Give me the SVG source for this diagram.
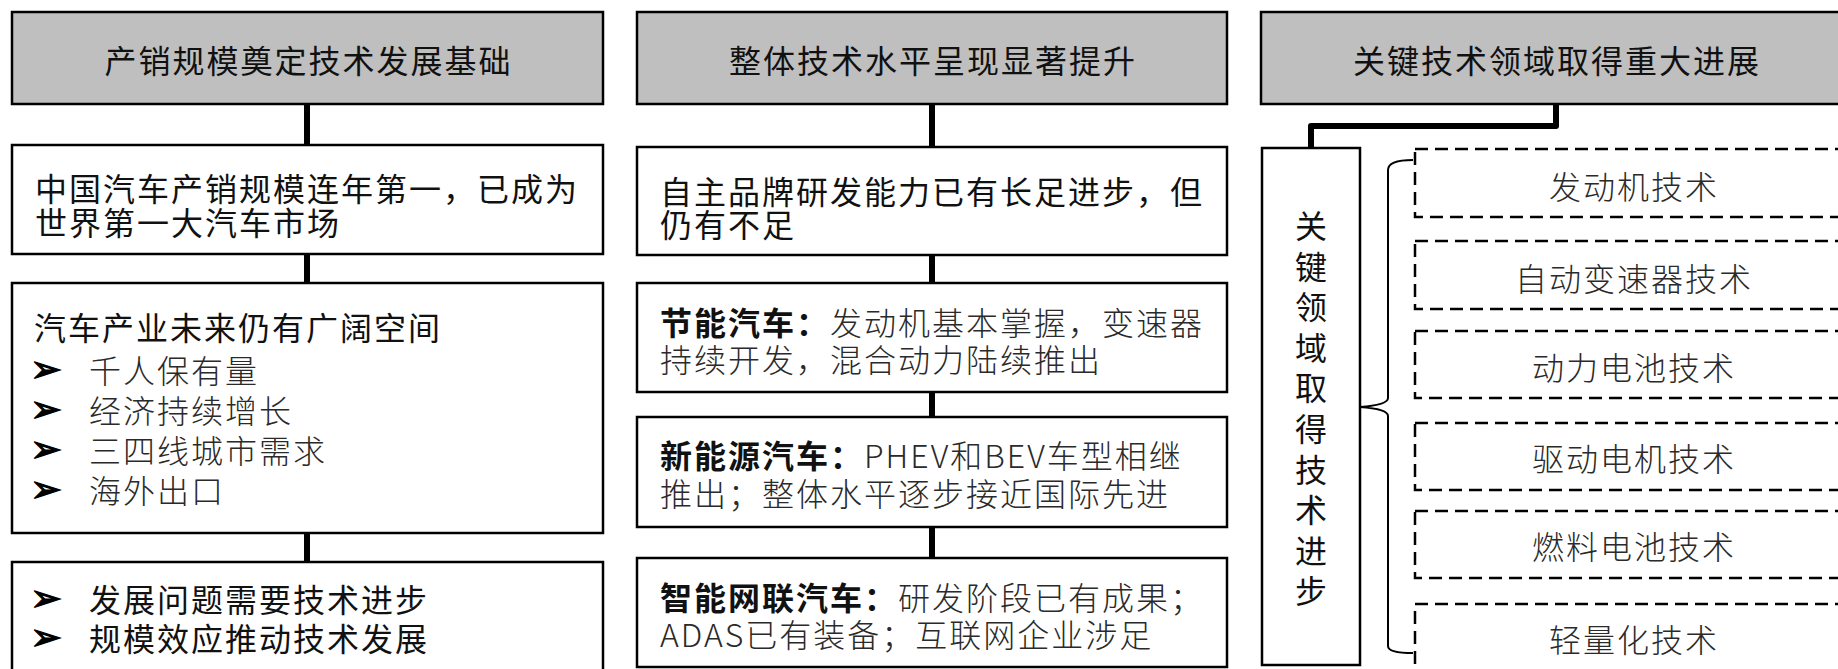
<svg xmlns="http://www.w3.org/2000/svg" width="1838" height="669" viewBox="0 0 1838 669">
<style>
.hdr{fill:#bfbfbf;stroke:#000;stroke-width:2.5}
.box{fill:#fff;stroke:#000;stroke-width:2.5}
.dash{fill:#fff;stroke:#000;stroke-width:2.5;stroke-dasharray:13 7}
.con{fill:none;stroke:#000;stroke-width:6;stroke-linejoin:round}
.brace{fill:none;stroke:#000;stroke-width:2}
text{font-family:"Noto Sans CJK SC","Noto Sans",sans-serif;font-size:32px;letter-spacing:2px;fill:#111;dominant-baseline:central}
.ht{text-anchor:middle}
.lt{font-weight:300;fill:#2a2a2a}
.b{font-weight:700}
.bul{font-family:"DejaVu Sans",sans-serif;font-size:38px;letter-spacing:0;text-anchor:middle;fill:#000;stroke:#000;stroke-width:1.2}
.ct{text-anchor:middle;font-weight:300;fill:#2a2a2a}
.vt{text-anchor:middle;letter-spacing:0}
</style>
<g id="connectors">
<line class="con" x1="307" y1="104" x2="307" y2="145"/>
<line class="con" x1="307" y1="254" x2="307" y2="283"/>
<line class="con" x1="307" y1="533" x2="307" y2="562"/>
<line class="con" x1="932" y1="104" x2="932" y2="147"/>
<line class="con" x1="932" y1="255" x2="932" y2="283"/>
<line class="con" x1="932" y1="392" x2="932" y2="417"/>
<line class="con" x1="932" y1="527" x2="932" y2="558"/>
<polyline class="con" points="1556,104 1556,126 1311,126 1311,148"/>
<path class="brace" d="M1413,160 Q1388,160 1388,170 L1388,398 Q1388,405 1360,407 Q1388,409 1388,416 L1388,646 Q1388,653 1413,653"/>
</g>
<g id="h1"><rect class="hdr" x="12" y="12" width="591" height="92"/><text class="ht" x="308.5" y="59">产销规模奠定技术发展基础</text></g>
<g id="h2"><rect class="hdr" x="637" y="12" width="590" height="92"/><text class="ht" x="933" y="59">整体技术水平呈现显著提升</text></g>
<g id="h3"><rect class="hdr" x="1261" y="12" width="590" height="92"/><text class="ht" x="1557" y="59">关键技术领域取得重大进展</text></g>
<g id="l1"><rect class="box" x="12" y="145" width="591" height="109"/>
<text x="35" y="187">中国汽车产销规模连年第一，已成为</text>
<text x="35" y="221">世界第一大汽车市场</text></g>
<g id="l2"><rect class="box" x="12" y="283" width="591" height="250"/>
<text x="34" y="326">汽车产业未来仍有广阔空间</text>
<text class="bul" x="46" y="369">➢</text><text class="lt" x="89" y="369">千人保有量</text>
<text class="bul" x="46" y="409">➢</text><text class="lt" x="89" y="409">经济持续增长</text>
<text class="bul" x="46" y="449">➢</text><text class="lt" x="89" y="449">三四线城市需求</text>
<text class="bul" x="46" y="489">➢</text><text class="lt" x="89" y="489">海外出口</text></g>
<g id="l3"><rect class="box" x="12" y="562" width="591" height="112"/>
<text class="bul" x="46" y="598">➢</text><text x="89" y="598">发展问题需要技术进步</text>
<text class="bul" x="46" y="637">➢</text><text x="89" y="637">规模效应推动技术发展</text></g>
<g id="m1"><rect class="box" x="637" y="147" width="590" height="108"/>
<text x="660" y="190">自主品牌研发能力已有长足进步，但</text>
<text x="660" y="223">仍有不足</text></g>
<g id="m2"><rect class="box" x="637" y="283" width="590" height="109"/>
<text x="660" y="321"><tspan class="b">节能汽车：</tspan><tspan class="lt">发动机基本掌握，变速器</tspan></text>
<text class="lt" x="660" y="358">持续开发，混合动力陆续推出</text></g>
<g id="m3"><rect class="box" x="637" y="417" width="590" height="110"/>
<text x="660" y="454"><tspan class="b">新能源汽车：</tspan><tspan class="lt">PHEV和BEV车型相继</tspan></text>
<text class="lt" x="660" y="492">推出；整体水平逐步接近国际先进</text></g>
<g id="m4"><rect class="box" x="637" y="558" width="590" height="109"/>
<text x="660" y="596"><tspan class="b">智能网联汽车：</tspan><tspan class="lt">研发阶段已有成果；</tspan></text>
<text class="lt" x="660" y="633">ADAS已有装备；互联网企业涉足</text></g>
<g id="r0"><rect class="box" x="1262" y="148" width="98" height="517"/>
<text class="vt" x="1311" y="224">关</text><text class="vt" x="1311" y="265">键</text><text class="vt" x="1311" y="305">领</text><text class="vt" x="1311" y="346">域</text><text class="vt" x="1311" y="386">取</text><text class="vt" x="1311" y="427">得</text><text class="vt" x="1311" y="468">技</text><text class="vt" x="1311" y="508">术</text><text class="vt" x="1311" y="549">进</text><text class="vt" x="1311" y="589">步</text></g>
<g id="r1"><rect class="dash" x="1415" y="149" width="440" height="68"/><text class="ct" x="1634" y="185">发动机技术</text></g>
<g id="r2"><rect class="dash" x="1415" y="241" width="440" height="68"/><text class="ct" x="1634" y="277">自动变速器技术</text></g>
<g id="r3"><rect class="dash" x="1415" y="331" width="440" height="67"/><text class="ct" x="1634" y="366">动力电池技术</text></g>
<g id="r4"><rect class="dash" x="1415" y="423" width="440" height="67"/><text class="ct" x="1634" y="457">驱动电机技术</text></g>
<g id="r5"><rect class="dash" x="1415" y="511" width="440" height="67"/><text class="ct" x="1634" y="545">燃料电池技术</text></g>
<g id="r6"><rect class="dash" x="1415" y="604" width="440" height="80"/><text class="ct" x="1634" y="638">轻量化技术</text></g>
</svg>
